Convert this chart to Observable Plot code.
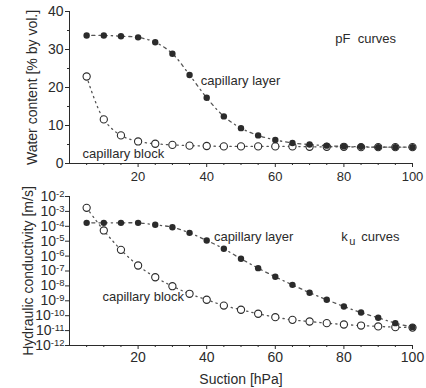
<!DOCTYPE html>
<html>
<head>
<meta charset="utf-8">
<script src="https://cdn.jsdelivr.net/npm/d3@7"></script>
<script src="https://cdn.jsdelivr.net/npm/@observablehq/plot@0.6"></script>
<style>
  html, body { margin: 0; padding: 0; background: #fff; }
  #chart { position: relative; width: 426px; height: 388px; font-family: "Liberation Sans", Arial, sans-serif; }
  #chart svg { position: absolute; left: 0; }
</style>
</head>
<body>
<div id="chart"></div>
<script>
// ---- data ----
const suction = [5,10,15,20,25,30,35,40,45,50,55,60,65,70,75,80,85,90,95,100];
// pF curves: water content [% by vol.]
const pfLayer = [33.7,33.7,33.5,33.2,31.9,28.9,23.3,17.3,12.4,9.3,7.4,6.2,5.4,5.0,4.7,4.5,4.4,4.3,4.3,4.3];
const pfBlock = [22.9,11.6,7.4,5.8,5.2,4.9,4.7,4.6,4.5,4.5,4.5,4.5,4.5,4.4,4.4,4.4,4.3,4.3,4.3,4.3];
// ku curves: log10 of hydraulic conductivity [m/s]
const kuLayerExp = [-3.77,-3.77,-3.77,-3.77,-3.90,-4.06,-4.44,-4.95,-5.51,-6.18,-6.81,-7.39,-7.93,-8.46,-8.93,-9.38,-9.79,-10.14,-10.50,-10.77];
const kuBlockExp = [-2.76,-4.28,-5.58,-6.63,-7.42,-8.02,-8.53,-8.93,-9.32,-9.60,-9.87,-10.10,-10.28,-10.39,-10.50,-10.59,-10.66,-10.72,-10.77,-10.80];
const xTicks = [20,40,60,80,100];
const xMinor = [5,10,15,25,30,35,45,50,55,65,70,75,85,90,95];
const yTicksTop = [0,10,20,30,40];
const yMinorTop = [5,15,25,35];
const yTicksBottom = [-2,-3,-4,-5,-6,-7,-8,-9,-10,-11,-12];
// annotations (data coordinates)
const topNotes = [
  {x: 38.3, y: 21.8, text: "capillary layer"},
  {x: 3.8, y: 2.6, text: "capillary block"},
  {x: 77.5, y: 32.9, text: "pF  curves"}
];
const bottomNotes = [
  {x: 42.1, y: -4.68, text: "capillary layer"},
  {x: 9.6, y: -8.75, text: "capillary block"}
];
const kuNote = {x: 79.2, y: -4.68};

const ink = "#2b2b2b";
const lineInk = "#555";
const expFmt = v => "10^" + Math.round(Math.log10(v));

const topRows = suction.map((s, i) => ({s, layer: pfLayer[i], block: pfBlock[i]}));
const botRows = suction.map((s, i) => ({s, layer: Math.pow(10, kuLayerExp[i]), block: Math.pow(10, kuBlockExp[i])}));

const common = {
  width: 426,
  marginLeft: 69,
  marginRight: 14,
  style: {fontFamily: "'Liberation Sans', Arial, sans-serif", fontSize: "13px", color: ink, background: "transparent"}
};

const p1 = Plot.plot({
  ...common,
  height: 185,
  marginTop: 11,
  marginBottom: 22,
  x: {domain: [0, 100]},
  y: {domain: [0, 40]},
  marks: [
    Plot.axisX({ticks: xTicks, tickSize: 4, tickPadding: 4, label: null, stroke: ink, fill: ink}),
    Plot.axisX({ticks: xMinor, tickSize: 2, tickFormat: () => "", label: null, stroke: ink}),
    Plot.axisY({ticks: yTicksTop, tickSize: 4, tickPadding: 2, label: "Water content [% by vol.]", labelAnchor: "center", labelOffset: 42, labelArrow: "none", stroke: ink, fill: ink, fontSize: 14}),
    Plot.axisY({ticks: yMinorTop, tickSize: 2, tickFormat: () => "", label: null, stroke: ink}),
    Plot.ruleX([0], {stroke: ink}),
    Plot.ruleY([0], {stroke: ink}),
    Plot.line(topRows, {x: "s", y: "layer", curve: "catmull-rom", stroke: lineInk, strokeWidth: 1.3, strokeDasharray: "1.3,4,3,4"}),
    Plot.line(topRows, {x: "s", y: "block", curve: "catmull-rom", stroke: lineInk, strokeWidth: 1.3, strokeDasharray: "1.3,4"}),
    Plot.dot(topRows, {x: "s", y: "block", r: 3.6, stroke: ink, strokeWidth: 1.1, fill: "white"}),
    Plot.dot(topRows, {x: "s", y: "layer", r: 3.2, fill: ink, stroke: "none"}),
    Plot.text(topNotes, {x: "x", y: "y", text: "text", textAnchor: "start", fill: ink, fontSize: 13})
  ]
});

const p2 = Plot.plot({
  ...common,
  height: 203,
  marginTop: 11,
  marginBottom: 43,
  x: {domain: [0, 100]},
  y: {type: "log", domain: [1e-12, 1e-2]},
  marks: [
    Plot.axisX({ticks: xTicks, tickSize: 4, tickPadding: 3, label: "Suction [hPa]", labelAnchor: "center", labelOffset: 38, labelArrow: "none", stroke: ink, fill: ink, fontSize: 14}),
    Plot.axisX({ticks: xMinor, tickSize: 2, tickFormat: () => "", label: null, stroke: ink}),
    Plot.axisY({ticks: yTicksBottom.map(e => Math.pow(10, e)), tickFormat: expFmt, tickSize: 4, tickPadding: 1, label: "Hydraulic conductivity [m/s]", labelAnchor: "center", labelOffset: 46, labelArrow: "none", stroke: ink, fill: ink, fontSize: 14}),
    Plot.ruleX([0], {stroke: ink}),
    Plot.ruleY([1e-12], {stroke: ink}),
    Plot.line(botRows, {x: "s", y: "layer", curve: "catmull-rom", stroke: lineInk, strokeWidth: 1.3, strokeDasharray: "1.3,4,3,4"}),
    Plot.line(botRows, {x: "s", y: "block", curve: "catmull-rom", stroke: lineInk, strokeWidth: 1.3, strokeDasharray: "1.3,4"}),
    Plot.dot(botRows, {x: "s", y: "block", r: 3.6, stroke: ink, strokeWidth: 1.1, fill: "white"}),
    Plot.dot(botRows, {x: "s", y: "layer", r: 3.2, fill: ink, stroke: "none"}),
    Plot.text(bottomNotes, {x: "x", y: d => Math.pow(10, d.y), text: "text", textAnchor: "start", fill: ink, fontSize: 13}),
    Plot.text([kuNote], {x: "x", y: d => Math.pow(10, d.y), text: () => "k", textAnchor: "start", fill: ink, fontSize: 13}),
    Plot.text([kuNote], {x: "x", y: d => Math.pow(10, d.y), text: () => "u", textAnchor: "start", dx: 8, dy: 5, fill: ink, fontSize: 11}),
    Plot.text([kuNote], {x: "x", y: d => Math.pow(10, d.y), text: () => "curves", textAnchor: "start", dx: 20, fill: ink, fontSize: 13})
  ]
});

// turn "10^-n" tick labels into 10 with a superscript exponent
d3.select(p2).selectAll("text").each(function () {
  const t = this.textContent;
  const m = /^10\^(-?\d+)$/.exec(t);
  if (!m) return;
  const sel = d3.select(this);
  sel.text("10");
  sel.append("tspan").attr("dy", "-0.45em").attr("font-size", "9.5px").text("-" + m[1].replace("-", ""));
});

const chart = document.getElementById("chart");
p1.style.top = "0px";
p2.style.top = "185px";
chart.appendChild(p1);
chart.appendChild(p2);
</script>
</body>
</html>
